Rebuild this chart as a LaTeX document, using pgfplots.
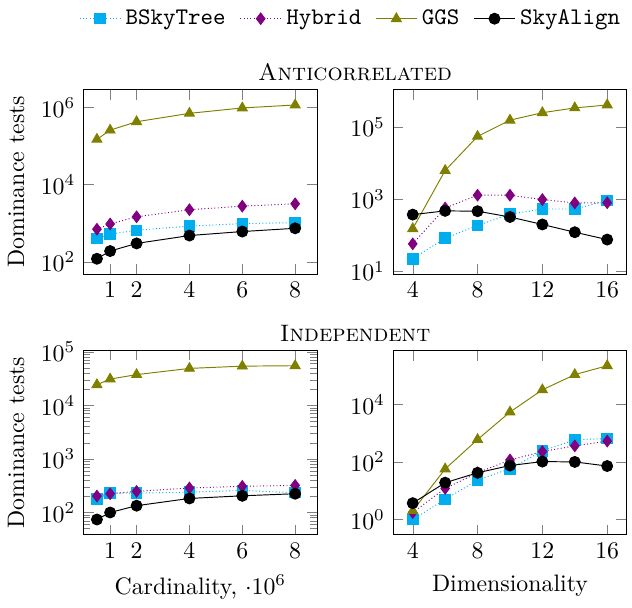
\documentclass[border=0pt]{standalone}
\usepackage{pgfplots}
\pgfplotsset{compat=1.18}
\usepgfplotslibrary{groupplots}
\definecolor{bsky}{RGB}{0,174,239}
\definecolor{hyb}{RGB}{128,0,128}
\definecolor{ggs}{RGB}{128,128,0}

\pgfplotsset{
  bsky/.style={color=bsky, densely dotted, mark=square*, mark size=2.2pt, mark options={solid}},
  hyb/.style={color=hyb, densely dotted, mark=diamond*, mark size=2.4pt, mark options={solid}},
  ggs/.style={color=ggs, solid, mark=triangle*, mark size=2.4pt},
  sky/.style={color=black, solid, mark=*, mark size=2.3pt},
}

\begin{document}
\begin{tikzpicture}
\begin{groupplot}[
  group style={group size=2 by 2, horizontal sep=32pt, vertical sep=32pt},
  scale only axis, width=98pt, height=77.5pt,
  ymode=log,
]
% Anticorrelated, cardinality
\nextgroupplot[
  xmin=0, xmax=8.83, xtick={1,2,4,6,8},
  ylabel={Dominance tests},
  title={\textsc{Anticorrelated}},
  title style={at={(1.163,1)}, anchor=south, yshift=-6pt},
]
\addplot[bsky] coordinates {(0.5,400)(1,520)(2,660)(4,840)(6,980)(8,1040)};
\addplot[hyb] coordinates {(0.5,700)(1,960)(2,1470)(4,2240)(6,2780)(8,3200)};
\addplot[ggs] coordinates {(0.5,1.5e5)(1,2.6e5)(2,4.3e5)(4,7.1e5)(6,9.8e5)(8,1.17e6)};
\addplot[sky] coordinates {(0.5,120)(1,190)(2,300)(4,480)(6,610)(8,740)};

% Anticorrelated, dimensionality
\nextgroupplot[
  xtick={4,8,12,16},
  legend columns=4,
  legend style={draw=none, at={(1.025,1.28)}, anchor=south east,
    /tikz/every even column/.append style={column sep=4pt}},
]
\addplot[bsky] coordinates {(4,22)(6,82)(8,185)(10,380)(12,530)(14,530)(16,910)};
\addplot[hyb] coordinates {(4,57)(6,565)(8,1280)(10,1280)(12,970)(14,780)(16,790)};
\addplot[ggs] coordinates {(4,150)(6,6200)(8,5.5e4)(10,1.55e5)(12,2.5e5)(14,3.4e5)(16,4.1e5)};
\addplot[sky] coordinates {(4,370)(6,470)(8,460)(10,318)(12,197)(14,120)(16,75)};
\legend{\texttt{BSkyTree},\texttt{Hybrid},\texttt{GGS},\texttt{SkyAlign}}

% Independent, cardinality
\nextgroupplot[
  xmin=0, xmax=8.83, xtick={1,2,4,6,8},
  ylabel={Dominance tests},
  xlabel={Cardinality, $\cdot 10^6$},
  title={\textsc{Independent}},
  title style={at={(1.163,1)}, anchor=south, yshift=-6pt},
]
\addplot[bsky] coordinates {(0.5,180)(1,230)(2,230)(4,240)(6,258)(8,234)};
\addplot[hyb] coordinates {(0.5,203)(1,224)(2,248)(4,287)(6,308)(8,321)};
\addplot[ggs] coordinates {(0.5,2.43e4)(1,3.1e4)(2,3.75e4)(4,4.9e4)(6,5.4e4)(8,5.5e4)};
\addplot[sky] coordinates {(0.5,74)(1,100)(2,134)(4,183)(6,205)(8,224)};

% Independent, dimensionality
\nextgroupplot[
  xtick={4,8,12,16},
  xlabel={Dimensionality},
]
\addplot[bsky] coordinates {(4,1.0)(6,5)(8,23.6)(10,58)(12,240)(14,590)(16,650)};
\addplot[hyb] coordinates {(4,1.75)(6,12)(8,42)(10,117)(12,230)(14,360)(16,530)};
\addplot[ggs] coordinates {(4,2.0)(6,57)(8,600)(10,5400)(12,3.2e4)(14,1.08e5)(16,2.2e5)};
\addplot[sky] coordinates {(4,3.7)(6,19)(8,42)(10,75)(12,103)(14,100)(16,72)};
\end{groupplot}
\end{tikzpicture}
\end{document}
